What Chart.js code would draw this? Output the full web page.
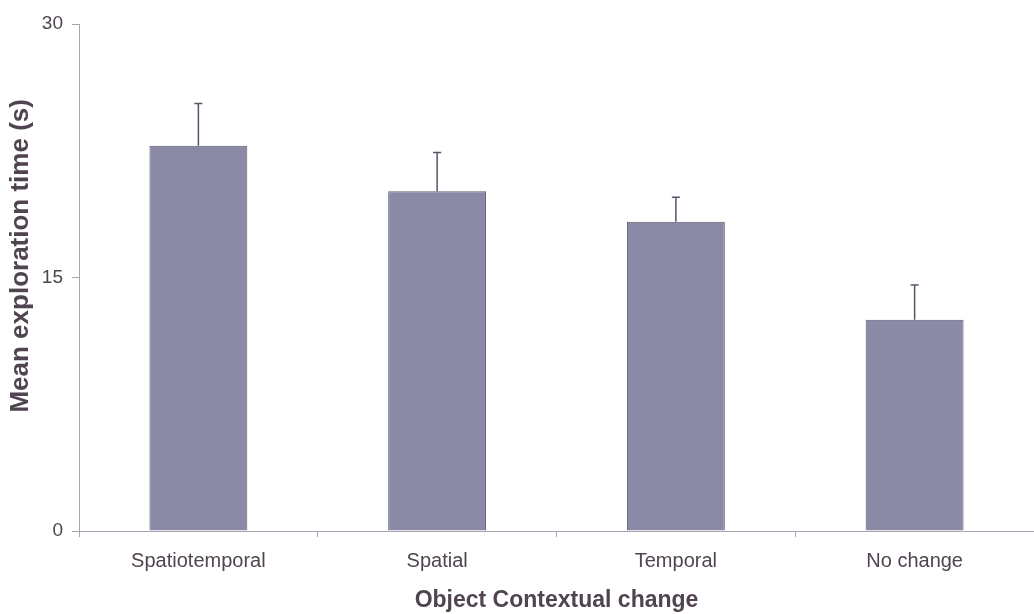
<!DOCTYPE html>
<html>
<head>
<meta charset="utf-8">
<script src="https://cdn.jsdelivr.net/npm/chart.js@4/dist/chart.umd.min.js"></script>
<style>
  html, body { margin: 0; padding: 0; background: #fff; }
  #wrap { width: 1034px; height: 614px; }
</style>
</head>
<body>
<div id="wrap"><canvas id="chart"></canvas></div>
<script>
const categories = ['Spatiotemporal', 'Spatial', 'Temporal', 'No change'];
const meanTimes = [22.8, 20.1, 18.3, 12.5];
const semTimes = [2.5, 2.3, 1.45, 2.05];
const yTicks = [0, 15, 30];

const textColor = '#4f4450';
const axisColor = '#a4a4b4';

// draws the upward-only error bars with a small cap
const errorBars = {
  id: 'errorBars',
  afterDatasetsDraw(chart) {
    const ctx = chart.ctx;
    const meta = chart.getDatasetMeta(0);
    const y = chart.scales.y;
    ctx.save();
    ctx.strokeStyle = '#55556a';
    ctx.lineWidth = 1.5;
    meta.data.forEach((bar, i) => {
      const top = y.getPixelForValue(meanTimes[i] + semTimes[i]);
      ctx.beginPath();
      ctx.moveTo(bar.x, bar.y);
      ctx.lineTo(bar.x, top);
      ctx.moveTo(bar.x - 4, top);
      ctx.lineTo(bar.x + 4, top);
      ctx.stroke();
    });
    ctx.restore();
  }
};

new Chart(document.getElementById('chart').getContext('2d'), {
  type: 'bar',
  data: {
    labels: categories,
    datasets: [{
      data: meanTimes,
      backgroundColor: '#8b8aa6',
      borderColor: '#5e5c72',
      borderWidth: 1,
      barPercentage: 0.41,
      categoryPercentage: 1
    }]
  },
  options: {
    responsive: true,
    maintainAspectRatio: false,
    animation: false,
    layout: { padding: { top: 24, right: 0, left: 0, bottom: 0 } },
    plugins: {
      legend: { display: false },
      tooltip: { enabled: false }
    },
    scales: {
      x: {
        afterFit(scale) { scale.height = 83; },
        grid: { drawOnChartArea: false, drawTicks: true, tickLength: 6, color: axisColor },
        border: { display: true, color: axisColor, width: 1 },
        ticks: { color: textColor, padding: 12, font: { family: 'Liberation Sans', size: 20 } },
        title: {
          display: true,
          text: 'Object Contextual change',
          color: textColor,
          padding: { top: 0, bottom: 0 },
          font: { family: 'Liberation Sans', size: 23, weight: 'bold' }
        }
      },
      y: {
        min: 0,
        max: 30,
        afterFit(scale) { scale.width = 79; },
        afterBuildTicks(scale) { scale.ticks = yTicks.map(v => ({ value: v })); },
        grid: { drawOnChartArea: false, drawTicks: true, tickLength: 7, color: axisColor },
        border: { display: true, color: axisColor, width: 1 },
        ticks: { color: textColor, padding: 9, font: { family: 'Liberation Sans', size: 19 } },
        title: {
          display: true,
          // leading spaces nudge the title up a little, as in the original
          text: '      Mean exploration time (s)',
          color: textColor,
          padding: { top: 5, bottom: 0 },
          font: { family: 'Liberation Sans', size: 26, weight: 'bold' }
        }
      }
    }
  },
  plugins: [errorBars]
});
</script>
</body>
</html>
